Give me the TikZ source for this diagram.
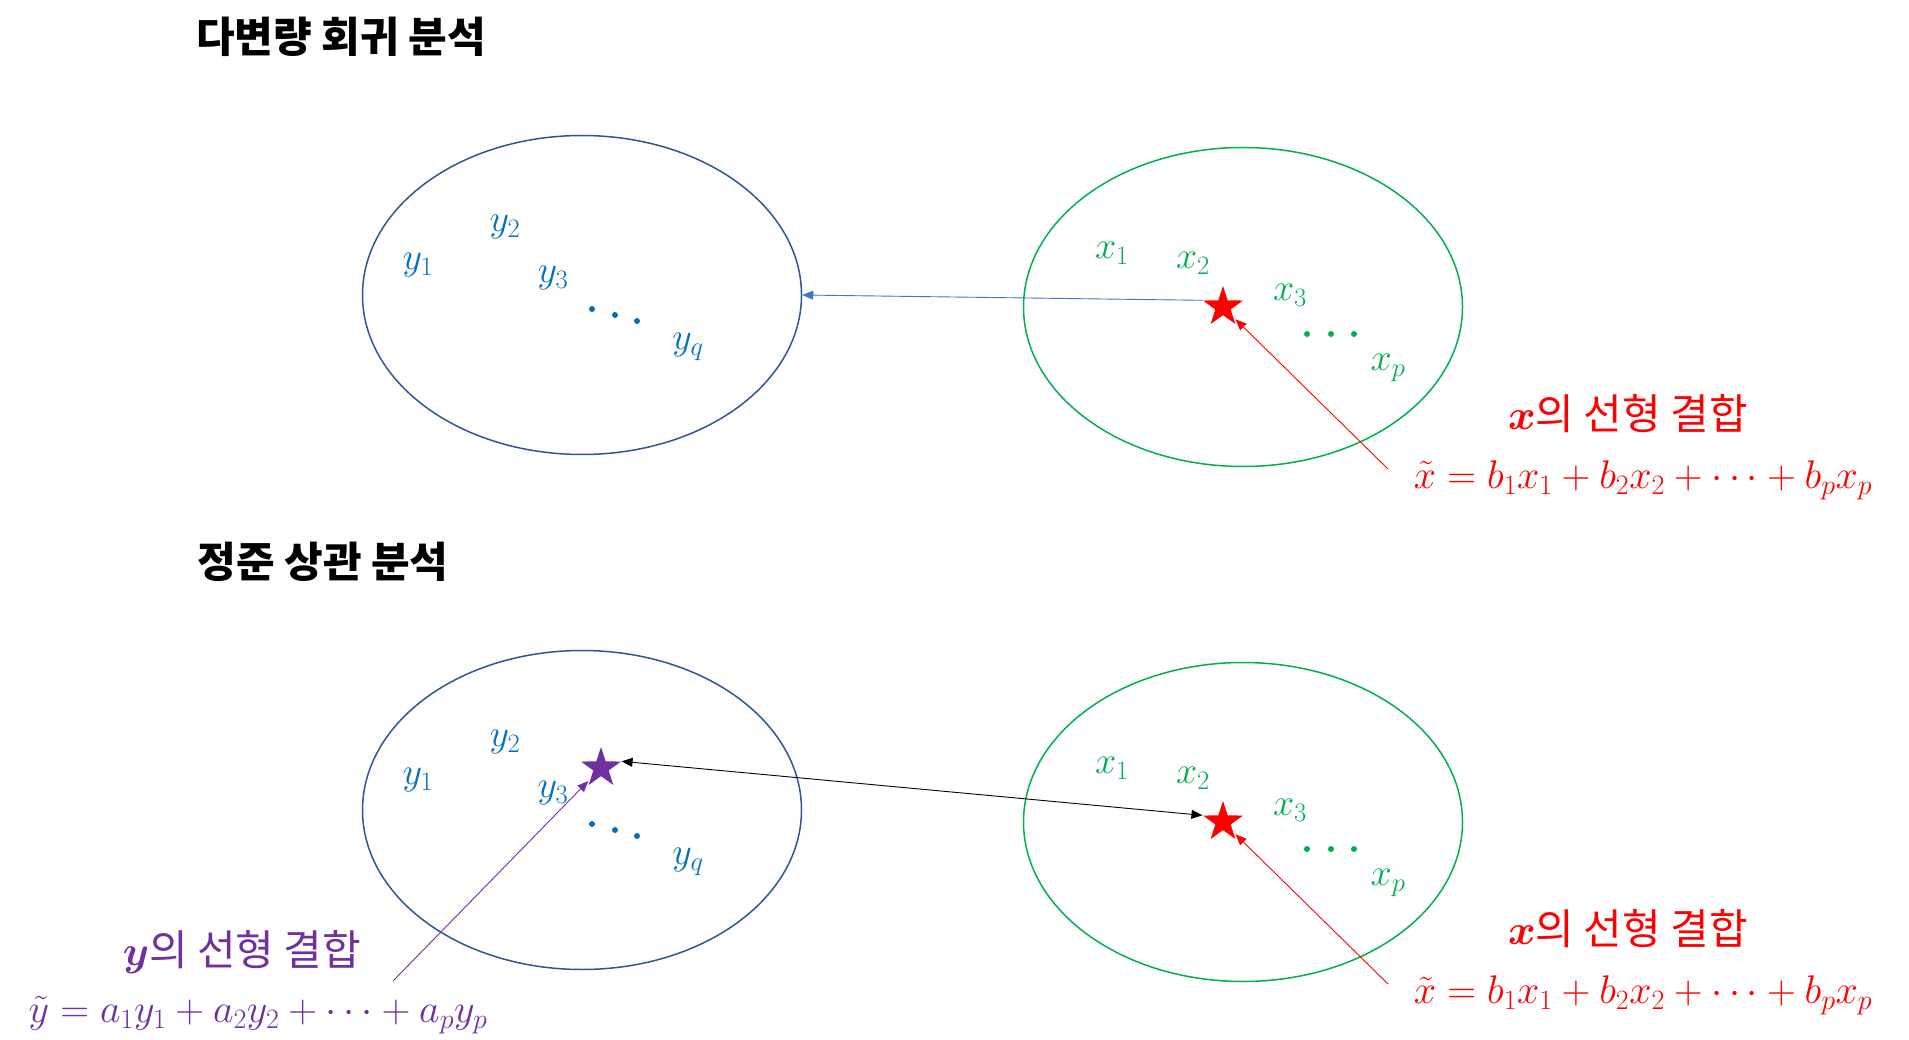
\RequirePackage{fix-cm}
\documentclass[tikz,border=0pt]{standalone}
\usepackage{amsmath,bm}
\usepackage{fontspec}
\newfontfamily\cjk{Noto Sans CJK KR}
\usetikzlibrary{shapes.geometric,arrows.meta}
\definecolor{ydark}{HTML}{2F5597}
\definecolor{yblue}{HTML}{0070C0}
\definecolor{xgreen}{HTML}{00B050}
\definecolor{lred}{HTML}{FF0000}
\definecolor{lpurple}{HTML}{7030A0}
\definecolor{abblue}{HTML}{4472C4}
\tikzset{
  setell/.style={ellipse, draw, line width=1.5pt, minimum width=439pt, minimum height=319pt, inner sep=0pt},
  yset/.style={setell, draw=ydark},
  xset/.style={setell, draw=xgreen},
  var/.style={font=\fontsize{38}{44}\selectfont, inner sep=0pt},
  yvar/.style={var, text=yblue},
  xvar/.style={var, text=xgreen},
  dotmark/.style={circle, inner sep=0pt, minimum size=6pt},
  combostar/.style={star, star points=5, star point ratio=2.6, minimum size=42pt, inner sep=0pt},
  title/.style={font=\cjk\bfseries\fontsize{42}{48}\selectfont, inner sep=0pt},
  label/.style={font=\cjk\fontsize{42}{48}\selectfont, inner sep=0pt},
  eqn/.style={font=\fontsize{40}{46}\selectfont, inner sep=0pt},
  tip/.style={-{Triangle[length=11pt,width=9pt]}},
}
\begin{document}
\begin{tikzpicture}[x=1pt,y=-1pt]
\useasboundingbox (0,0) rectangle (1909,1040);
% ---------- top panel ----------
\node[title] (t1) at (341,37) {다변량 회귀 분석};
\node[yset] (Y1) at (582,295) {};
\node[xset] (X1) at (1243,307) {};
\node[yvar] (ya1) at (418,265) {$y_1$};
\node[yvar] (ya2) at (505,227) {$y_2$};
\node[yvar] (ya3) at (553,278) {$y_3$};
\node[dotmark, fill=yblue] (yd1) at (592,309) {};
\node[dotmark, fill=yblue] (yd2) at (615,315) {};
\node[dotmark, fill=yblue] (yd3) at (637,321) {};
\node[yvar] (yaq) at (688,347) {$y_q$};
\node[xvar] (xa1) at (1112,253) {$x_1$};
\node[xvar] (xa2) at (1193,263) {$x_2$};
\node[xvar] (xa3) at (1290,295) {$x_3$};
\node[dotmark, fill=xgreen] (xd1) at (1307,334) {};
\node[dotmark, fill=xgreen] (xd2) at (1331,334) {};
\node[dotmark, fill=xgreen] (xd3) at (1354,334) {};
\node[xvar] (xap) at (1388,368) {$x_p$};
\node[combostar, fill=lred] (S1) at (1223,307) {};
\node[label, text=lred] (lx1) at (1628,414) {$\boldsymbol{x}$의 선형 결합};
\node[eqn, text=lred, anchor=base] (ex1) at (1643,488) {$\tilde{x} = b_1x_1 + b_2x_2 + \cdots + b_px_p$};
\coordinate (ax1) at (1388,469);
\draw[tip, abblue, line width=0.9pt] (S1.outer point 2) -- (Y1.east);
\draw[tip, lred, line width=0.9pt, shorten >=3pt] (ax1) -- (S1);
% ---------- bottom panel ----------
\node[title] (t2) at (323,562) {정준 상관 분석};
\node[yset] (Y2) at (582,810) {};
\node[xset] (X2) at (1243,822) {};
\node[yvar] (yb1) at (418,780) {$y_1$};
\node[yvar] (yb2) at (505,742) {$y_2$};
\node[yvar] (yb3) at (553,793) {$y_3$};
\node[dotmark, fill=yblue] (ye1) at (592,824) {};
\node[dotmark, fill=yblue] (ye2) at (615,830) {};
\node[dotmark, fill=yblue] (ye3) at (637,836) {};
\node[yvar] (ybq) at (688,862) {$y_q$};
\node[xvar] (xb1) at (1112,768) {$x_1$};
\node[xvar] (xb2) at (1193,778) {$x_2$};
\node[xvar] (xb3) at (1290,810) {$x_3$};
\node[dotmark, fill=xgreen] (xe1) at (1307,849) {};
\node[dotmark, fill=xgreen] (xe2) at (1331,849) {};
\node[dotmark, fill=xgreen] (xe3) at (1354,849) {};
\node[xvar] (xbp) at (1388,883) {$x_p$};
\node[combostar, fill=lred] (S2) at (1223,822) {};
\node[combostar, fill=lpurple] (P2) at (601,768) {};
\node[label, text=lred] (lx2) at (1628,929) {$\boldsymbol{x}$의 선형 결합};
\node[eqn, text=lred, anchor=base] (ex2) at (1643,1003) {$\tilde{x} = b_1x_1 + b_2x_2 + \cdots + b_px_p$};
\node[label, text=lpurple] (ly2) at (242,952) {$\boldsymbol{y}$의 선형 결합};
\node[eqn, text=lpurple, anchor=base] (ey2) at (258,1022) {$\tilde{y} = a_1y_1 + a_2y_2 + \cdots + a_py_p$};
\coordinate (ax2) at (1388,984);
\coordinate (ay2) at (393,981);
\draw[tip, lred, line width=0.9pt, shorten >=3pt] (ax2) -- (S2);
\draw[tip, lpurple, line width=0.9pt, shorten >=3pt] (ay2) -- (P2);
\draw[{Triangle[length=11pt,width=9pt]}-{Triangle[length=11pt,width=9pt]}, black, line width=0.9pt] (P2.outer point 5) -- (S2.outer point 2);
\end{tikzpicture}
\end{document}
